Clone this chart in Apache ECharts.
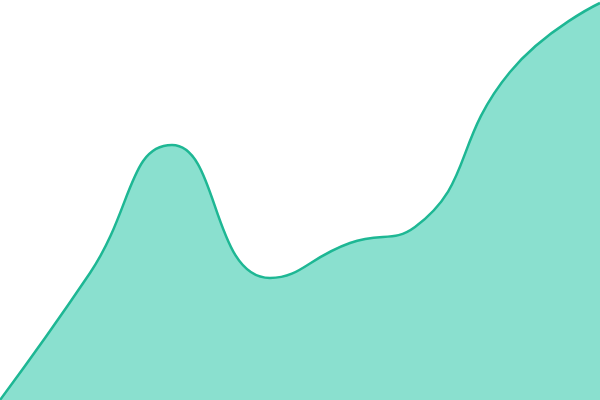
<!DOCTYPE html>
<html>
<head>
<meta charset="utf-8">
<script src="https://cdn.jsdelivr.net/npm/echarts@6/dist/echarts.min.js"></script>
<style>html,body{margin:0;padding:0;background:#fff}#c{width:600px;height:400px}</style>
</head>
<body>
<div id="c"></div>
<script>
const xValues = [0, 90, 172, 270, 350, 415, 510, 600];
const yValues = [0, 127, 255, 122, 157, 173, 328, 397];

const seriesData = xValues.map((x, i) => [x, yValues[i]]);

const chart = echarts.init(document.getElementById('c'));
chart.setOption({
  animation: false,
  grid: { left: 0, right: 0, top: 0, bottom: 0 },
  xAxis: { type: 'value', min: 0, max: 600, show: false },
  yAxis: { type: 'value', min: 0, max: 400, show: false },
  series: [{
    type: 'line',
    data: seriesData,
    smooth: true,
    symbol: 'none',
    lineStyle: { color: '#1eb794', width: 2.5 },
    areaStyle: { color: '#8ae0cf', opacity: 1 }
  }]
});
</script>
</body>
</html>
